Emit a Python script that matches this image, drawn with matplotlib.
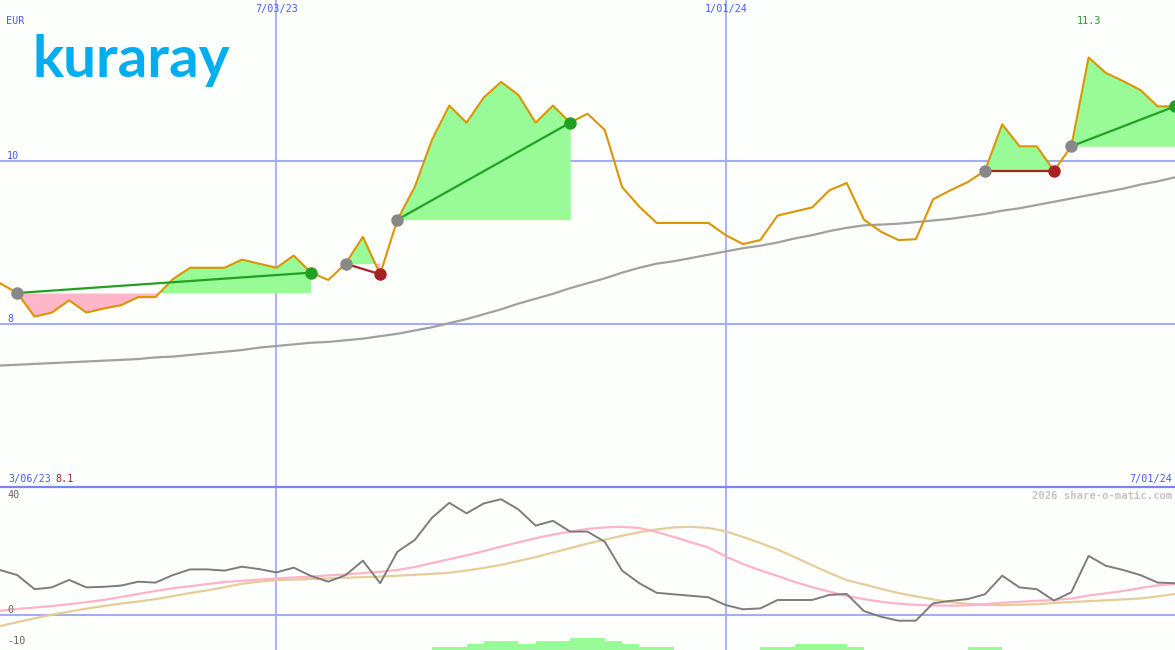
import matplotlib
matplotlib.use("Agg")
import matplotlib.pyplot as plt
import matplotlib.dates as mdates
import numpy as np
import pandas as pd

# ---- weekly data -------------------------------------------------------
dates = pd.date_range("2023-03-13", periods=69, freq="7D")

price = [8.50, 8.38, 8.09, 8.14, 8.29, 8.14, 8.19, 8.23, 8.33, 8.33,
         8.55, 8.69, 8.69, 8.69, 8.79, 8.74, 8.69, 8.84, 8.63, 8.54,
         8.74, 9.07, 8.61, 9.28, 9.68, 10.26, 10.68, 10.47, 10.78, 10.97,
         10.81, 10.47, 10.68, 10.47, 10.58, 10.38, 9.68, 9.44, 9.24, 9.24,
         9.24, 9.24, 9.09, 8.98, 9.03, 9.33, 9.38, 9.43, 9.64, 9.73,
         9.28, 9.13, 9.03, 9.04, 9.53, 9.64, 9.74, 9.88, 10.45, 10.18,
         10.18, 9.88, 10.18, 11.27, 11.08, 10.98, 10.87, 10.67, 10.67]

ma_long = [7.49, 7.50, 7.51, 7.52, 7.53, 7.54, 7.55, 7.56, 7.57, 7.59,
           7.60, 7.62, 7.64, 7.66, 7.68, 7.71, 7.73, 7.75, 7.77, 7.78,
           7.80, 7.82, 7.85, 7.88, 7.92, 7.96, 8.01, 8.06, 8.12, 8.18,
           8.25, 8.31, 8.37, 8.44, 8.50, 8.56, 8.63, 8.69, 8.74, 8.77,
           8.81, 8.85, 8.89, 8.93, 8.96, 9.00, 9.05, 9.09, 9.14, 9.18,
           9.21, 9.22, 9.23, 9.25, 9.27, 9.29, 9.32, 9.35, 9.39, 9.42,
           9.46, 9.50, 9.54, 9.58, 9.62, 9.66, 9.71, 9.75, 9.80]

momentum = [15.0, 13.3, 8.6, 9.2, 11.7, 9.2, 9.4, 9.8, 11.1, 10.8,
            13.3, 15.2, 15.2, 14.8, 16.1, 15.3, 14.2, 15.8, 13.0, 11.1,
            13.3, 18.1, 10.6, 21.1, 25.0, 32.4, 37.4, 33.9, 37.2, 38.6,
            35.2, 29.8, 31.4, 27.8, 27.8, 24.4, 14.8, 10.6, 7.4, 6.9,
            6.4, 5.9, 3.3, 1.9, 2.2, 5.0, 5.0, 5.0, 6.7, 7.0,
            1.3, -0.6, -1.9, -1.9, 3.9, 4.7, 5.3, 6.9, 13.1, 9.2,
            8.6, 4.8, 7.6, 19.7, 16.4, 15.0, 13.3, 10.8, 10.6]

signal_fast = [1.4, 2.0, 2.5, 3.0, 3.6, 4.3, 5.0, 6.0, 7.0, 8.0,
               8.9, 9.6, 10.3, 11.0, 11.4, 11.8, 12.2, 12.5, 12.8, 13.2,
               13.5, 14.0, 14.4, 15.0, 16.0, 17.3, 18.6, 19.9, 21.3, 22.8,
               24.2, 25.6, 26.8, 27.8, 28.7, 29.2, 29.4, 29.0, 27.7, 26.0,
               24.2, 22.5, 19.5, 17.0, 14.9, 13.0, 11.0, 9.3, 7.8, 6.3,
               5.3, 4.4, 3.8, 3.4, 3.2, 3.1, 3.2, 3.6, 4.1, 4.4,
               4.7, 5.0, 5.5, 6.5, 7.2, 8.0, 9.0, 9.9, 10.3]

signal_slow = [-3.7, -2.4, -1.1, 0.1, 1.1, 2.1, 3.0, 3.8, 4.5, 5.3,
               6.3, 7.3, 8.2, 9.3, 10.4, 11.1, 11.6, 11.8, 12.0, 12.2,
               12.4, 12.6, 12.8, 13.1, 13.4, 13.7, 14.1, 14.8, 15.7, 16.7,
               18.0, 19.3, 20.8, 22.3, 23.8, 25.1, 26.4, 27.6, 28.5, 29.2,
               29.4, 29.0, 27.9, 26.0, 24.0, 21.8, 19.3, 16.6, 14.0, 11.6,
               10.2, 8.7, 7.3, 6.2, 5.2, 4.3, 3.7, 3.4, 3.3, 3.4,
               3.6, 4.0, 4.3, 4.6, 4.9, 5.2, 5.5, 6.2, 7.0]

strength = [0] * 25 + [1, 1, 2, 3, 3, 2, 3, 3, 4, 4, 3, 2, 1, 1] + \
           [0] * 5 + [1, 1, 2, 2, 2, 1] + [0] * 6 + [1, 1] + [0] * 11

# trades: (entry week index, exit week index)
trades = [(1, 18), (20, 22), (23, 33), (57, 61), (62, 68)]

grid_dates = ["2023-07-03", "2024-01-01"]
grid_labels = ["7/03/23", "1/01/24"]
price_ticks = [10, 8]
osc_ticks = [40, 0, -10]
start_label = "3/06/23"
end_label = "7/01/24"
currency = "EUR"

# ---- styling -----------------------------------------------------------
BG = "#fdfffd"
GRID = "#a4acf2"
SEP = "#7b86ec"
TXT_BLUE = "#4a5cf0"
ORANGE = "#dc9400"
GREEN_FILL = "#98fb98"
PINK_FILL = "#ffb6c8"
WIN = "#22a022"
LOSS = "#a82222"
MONO = "DejaVu Sans Mono"
FS = 7.3

x = mdates.date2num(dates.to_pydatetime())
price = np.array(price)

fig = plt.figure(figsize=(11.75, 6.5), dpi=100, facecolor=BG)
ax = fig.add_axes([0, 163 / 650, 1, 487 / 650])
ax2 = fig.add_axes([0, 0, 1, 163 / 650])
for a in (ax, ax2):
    a.set_facecolor(BG)
    a.set_xlim(x[0], x[-1])
    a.set_xticks([])
    a.set_yticks([])
    for s in a.spines.values():
        s.set_visible(False)

ax.set_ylim(6.0, 11.975)
ax2.set_ylim(-11.67, 42.67)

# ---- grid --------------------------------------------------------------
for gd in grid_dates:
    gx = mdates.date2num(pd.Timestamp(gd))
    ax.axvline(gx, color=GRID, lw=1.3, zorder=1)
    ax2.axvline(gx, color=GRID, lw=1.3, zorder=1)
for t in price_ticks:
    ax.axhline(t, color=GRID, lw=1.5, zorder=1)
ax2.axhline(0, color=GRID, lw=1.5, zorder=1)
ax2.spines["top"].set_visible(True)
ax2.spines["top"].set_color(SEP)
ax2.spines["top"].set_linewidth(1.6)

# ---- trade shading -----------------------------------------------------
for i0, i1 in trades:
    xs = x[i0:i1 + 1]
    ps = price[i0:i1 + 1]
    lvl = price[i0]
    ax.fill_between(xs, ps, lvl, where=ps >= lvl, interpolate=True,
                    color=GREEN_FILL, lw=0, zorder=2)
    ax.fill_between(xs, ps, lvl, where=ps <= lvl, interpolate=True,
                    color=PINK_FILL, lw=0, zorder=2)

# ---- price panel lines -------------------------------------------------
ax.plot(x, ma_long, color="#a0a0a0", lw=1.6, zorder=3)
ax.plot(x, price, color=ORANGE, lw=1.5, zorder=4)

for i0, i1 in trades:
    c = WIN if price[i1] > price[i0] else LOSS
    ax.plot([x[i0], x[i1]], [price[i0], price[i1]], color=c, lw=1.6, zorder=5)
    ax.plot(x[i0], price[i0], "o", ms=9, color="#888888", mec="none", zorder=6)
    ax.plot(x[i1], price[i1], "o", ms=9, color=c, mec="none", zorder=6)

# ---- price panel text --------------------------------------------------
yt = ax.get_yaxis_transform()
xt = ax.get_xaxis_transform()
for t in price_ticks:
    ax.text(0.006, t + 0.005, str(t), transform=yt, color=TXT_BLUE,
            fontsize=FS, family=MONO, va="bottom", ha="left")
ax.text(0.005, 0.957, currency, transform=ax.transAxes, color=TXT_BLUE,
        fontsize=FS, family=MONO, va="center", ha="left")
for gd, gl in zip(grid_dates, grid_labels):
    ax.text(mdates.date2num(pd.Timestamp(gd)), 0.982, gl, transform=xt,
            color=TXT_BLUE, fontsize=FS, family=MONO, va="center", ha="center")

imax = int(np.argmax(price))
ax.text(x[imax], 0.957, f"{price[imax]:.1f}", transform=xt, color=WIN,
        fontsize=FS, family=MONO, va="center", ha="center")
ax.text(0.007, 0.016, start_label, transform=ax.transAxes, color=TXT_BLUE,
        fontsize=FS, family=MONO, va="center", ha="left")
ax.text(0.047, 0.016, f"{price.min():.1f}", transform=ax.transAxes,
        color=LOSS, fontsize=FS, family=MONO, va="center", ha="left")
ax.text(0.9975, 0.016, end_label, transform=ax.transAxes, color=TXT_BLUE,
        fontsize=FS, family=MONO, va="center", ha="right")

# logo
ax.text(0.028, 0.842, "kuraray", transform=ax.transAxes, color="#00aeef",
        fontsize=42, family="Lato", fontweight="bold", va="baseline",
        ha="left")

# ---- oscillator panel --------------------------------------------------
ax2.bar(x, strength, width=7, align="edge", bottom=-11.67,
        color=GREEN_FILL, lw=0, zorder=2)
ax2.plot(x, signal_slow, color="#e6cc99", lw=1.6, zorder=3)
ax2.plot(x, signal_fast, color="#ffb3c8", lw=1.6, zorder=3)
ax2.plot(x, momentum, color="#7c7c7c", lw=1.4, zorder=4)

yt2 = ax2.get_yaxis_transform()
for t, off in zip(osc_ticks, [0.0, 1.5, 1.2]):
    ax2.text(0.006, t + off, str(t), transform=yt2, color="#666666",
             fontsize=FS, family=MONO, va="center", ha="left")
ax2.text(0.9975, 0.944, "2026 share-o-matic.com", transform=ax2.transAxes,
         color="#c4c4c4", fontsize=FS + 0.3, family=MONO, fontweight="bold",
         va="center", ha="right")

fig.savefig("out.png", dpi=100, facecolor=BG)
